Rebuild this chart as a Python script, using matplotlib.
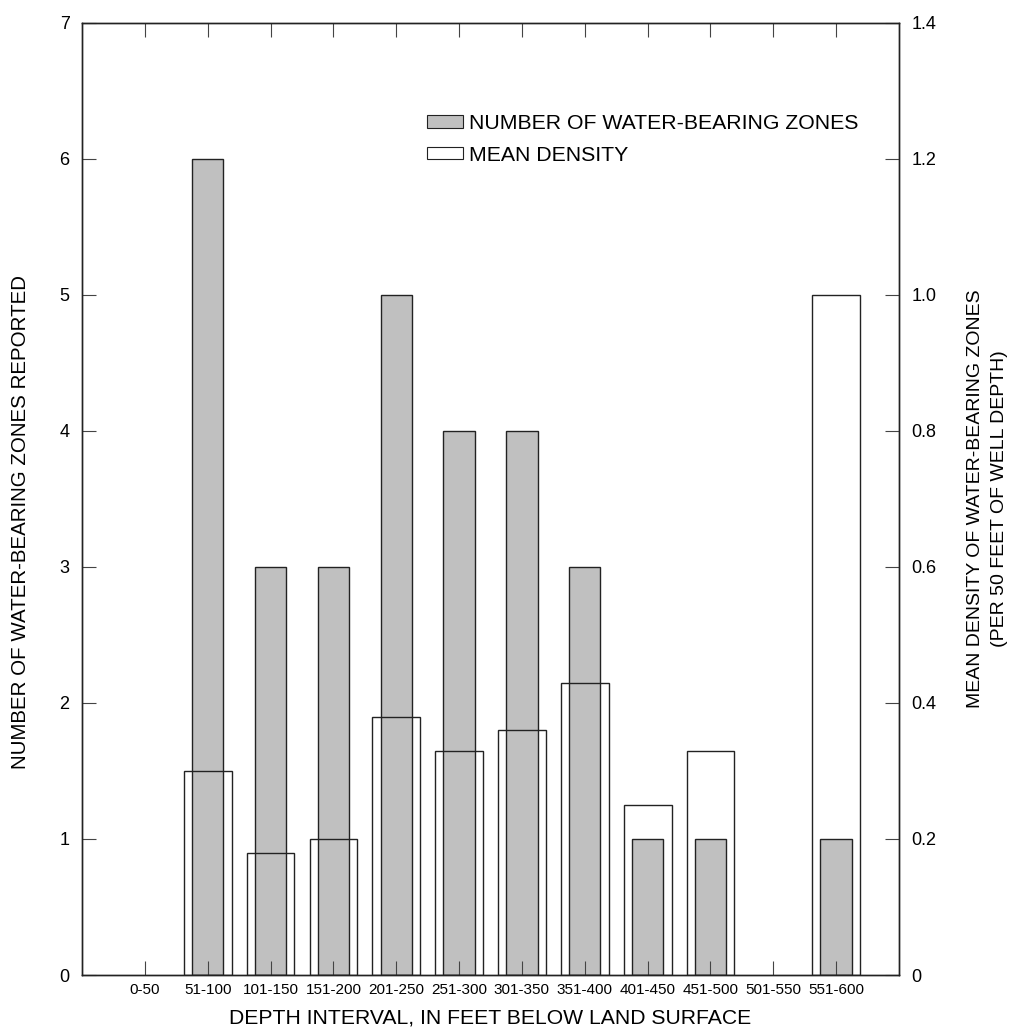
import numpy as np
import matplotlib
matplotlib.use("Agg")
import matplotlib.pyplot as plt
from matplotlib.patches import Patch
from matplotlib.ticker import FuncFormatter

plt.rcParams['font.family'] = ['Liberation Sans', 'DejaVu Sans']

intervals = ['0-50', '51-100', '101-150', '151-200', '201-250', '251-300',
             '301-350', '351-400', '401-450', '451-500', '501-550', '551-600']
zones = [0, 6, 3, 3, 5, 4, 4, 3, 1, 1, 0, 1]
density = [0, 0.30, 0.18, 0.20, 0.38, 0.33, 0.36, 0.43, 0.25, 0.33, 0, 1.0]

x = np.arange(1, len(intervals) + 1)
grey = '#c0c0c0'
edge = '#222222'

fig = plt.figure(figsize=(10.1, 10.32), dpi=100)
ax = fig.add_axes([0.0812, 0.0552, 0.8089, 0.9228])

# grey bars: number of zones (left scale)
zx = [xi for xi, z in zip(x, zones) if z > 0]
zv = [z for z in zones if z > 0]
ax.bar(zx, zv, width=0.5, color=grey, edgecolor=edge, linewidth=1.0)
ax.set_xlim(0, 13)
ax.set_ylim(0, 7)
ax.set_yticks(range(0, 8))
ax.set_xticks(x)
ax.set_xticklabels(intervals, fontsize=11)
ax.tick_params(axis='both', direction='in', length=10, width=0.8, color='#444444')
ax.tick_params(axis='x', top=True, pad=6)
ax.tick_params(axis='y', labelsize=13, pad=9)
ax.set_xlabel('DEPTH INTERVAL, IN FEET BELOW LAND SURFACE', fontsize=15.2, labelpad=8)
ax.set_ylabel('NUMBER OF WATER-BEARING ZONES REPORTED', fontsize=14.8)
ax.yaxis.set_label_coords(-0.064, 0.476)

# outline bars: mean density (right scale)
ax2 = ax.twinx()
dx = [xi for xi, d in zip(x, density) if d > 0]
dv = [d for d in density if d > 0]
ax2.bar(dx, dv, width=0.76, fill=False, edgecolor=edge, linewidth=1.0)
ax2.set_ylim(0, 1.4)
ax2.set_yticks(np.arange(0, 1.41, 0.2))
ax2.yaxis.set_major_formatter(FuncFormatter(lambda v, p: '0' if abs(v) < 1e-9 else f'{v:.1f}'))
ax2.tick_params(axis='y', direction='in', length=10, width=0.8, color='#444444', labelsize=13, pad=9)
ax2.set_ylabel('MEAN DENSITY OF WATER-BEARING ZONES\n(PER 50 FEET OF WELL DEPTH)',
               fontsize=14, labelpad=22, linespacing=1.55)

for a in (ax, ax2):
    for s in a.spines.values():
        s.set_linewidth(1.0)
        s.set_color('#222222')

handles = [Patch(facecolor=grey, edgecolor=edge, linewidth=0.8),
           Patch(facecolor='white', edgecolor=edge, linewidth=0.8)]
ax2.legend(handles, ['NUMBER OF WATER-BEARING ZONES', 'MEAN DENSITY'],
           loc='upper left', bbox_to_anchor=(0.414, 0.898), bbox_transform=fig.transFigure,
           frameon=False, fontsize=15.3, handlelength=1.7, handleheight=0.55,
           handletextpad=0.3, labelspacing=0.6, borderaxespad=0)

fig.savefig('out.png', dpi=100)
